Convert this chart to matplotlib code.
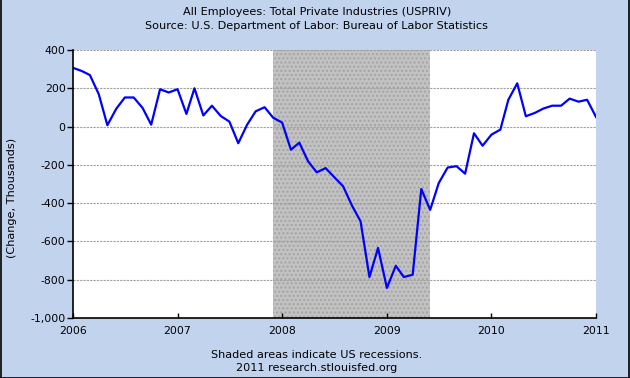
#!/usr/bin/env python3
"""
FRED-style chart: monthly change in total private employees (USPRIV), 2006-2011
"""
import numpy as np
import pandas as pd
import matplotlib
matplotlib.use('Agg')
import matplotlib.pyplot as plt
import matplotlib.dates as mdates
from matplotlib.lines import Line2D
from matplotlib.ticker import FuncFormatter

# Monthly change, thousands
start_month = '2006-01-01'
change_2006 = [307, 290, 269, 169, 7, 93, 152, 152, 97, 10, 195, 178]
change_2007 = [195, 66, 200, 58, 109, 55, 26, -87, 10, 80, 101, 46]
change_2008 = [21, -121, -84, -182, -239, -217, -264, -312, -413, -495, -786, -634]
change_2009 = [-843, -727, -786, -774, -326, -435, -295, -214, -207, -246, -35, -100]
change_2010 = [-42, -16, 140, 226, 54, 71, 94, 109, 109, 146, 130, 140]
change_2011 = [50]

recession = ('2007-12-01', '2009-06-01')
y_ticks = [-1000, -800, -600, -400, -200, 0, 200, 400]
x_years = [2006, 2007, 2008, 2009, 2010, 2011]

title_lines = ["All Employees: Total Private Industries (USPRIV)",
               "Source: U.S. Department of Labor: Bureau of Labor Statistics"]
footer_lines = ["Shaded areas indicate US recessions.",
                "2011 research.stlouisfed.org"]
y_label = "(Change, Thousands)"

bg = '#C2D3EE'
fs = 8.1        # titles / footer
fs_tick = 7.8   # tick labels

values = change_2006 + change_2007 + change_2008 + change_2009 + change_2010 + change_2011
dates = pd.date_range(start_month, periods=len(values), freq='MS')

fig = plt.figure(figsize=(6.3, 3.78), dpi=100)
fig.patch.set_facecolor(bg)
ax = fig.add_axes([73/630, 1 - 318/378, (596 - 73)/630, (318 - 50)/378])
ax.set_facecolor('white')

# Recession shading
ax.axvspan(pd.Timestamp(recession[0]), pd.Timestamp(recession[1]),
           facecolor='#C2C2C2', edgecolor='#A4A4A4', hatch='....', linewidth=0, zorder=1)

ax.plot(dates, values, color='#0000FF', linewidth=1.6, zorder=3)

# Axis settings
ax.set_xlim(pd.Timestamp('2006-01-01'), pd.Timestamp('2011-01-01'))
ax.set_ylim(-1000, 400)
ax.set_yticks(y_ticks)
ax.yaxis.set_major_formatter(FuncFormatter(lambda v, p: '{:,.0f}'.format(v)))
ax.set_xticks([pd.Timestamp('%d-01-01' % y) for y in x_years])
ax.xaxis.set_major_formatter(mdates.DateFormatter('%Y'))

for v in y_ticks[1:]:
    ax.axhline(v, color='#A0A0A0', linewidth=0.8, linestyle=(0, (2, 1)), zorder=2)

for side in ['top', 'right']:
    ax.spines[side].set_visible(False)
for side in ['left', 'bottom']:
    ax.spines[side].set_color('black')
    ax.spines[side].set_linewidth(1.2)
    ax.spines[side].set_zorder(4)

ax.tick_params(axis='y', direction='out', length=4.3, width=1, pad=1, labelsize=fs_tick, colors='black')
ax.tick_params(axis='x', direction='in', length=3.6, width=1, pad=6, labelsize=fs_tick, colors='black')

# Titles, y label and footer
fig.text(0.503, 1 - 12/378, title_lines[0], ha='center', va='center', fontsize=fs)
fig.text(0.503, 1 - 26/378, title_lines[1], ha='center', va='center', fontsize=fs)
fig.text(12/630, 1 - 198/378, y_label, ha='center', va='center', rotation=90, fontsize=fs)
fig.text(317/630, 1 - 355/378, footer_lines[0], ha='center', va='center', fontsize=fs)
fig.text(317/630, 1 - 368/378, footer_lines[1], ha='center', va='center', fontsize=fs)

# Outer frame
for xs, ys in [([0.0008, 0.0008], [0, 1]), ([0, 1], [0.0013, 0.0013]), ([0.9992, 0.9992], [0, 1])]:
    fig.add_artist(Line2D(xs, ys, color='black', linewidth=1.2, transform=fig.transFigure))

plt.savefig('out.png', dpi=100, facecolor=bg)
plt.close()
